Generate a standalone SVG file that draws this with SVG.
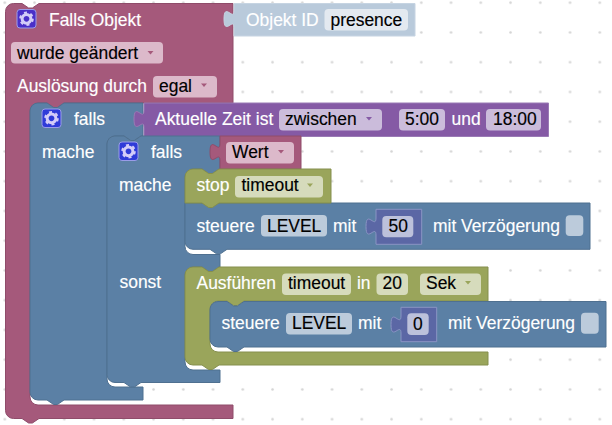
<svg xmlns="http://www.w3.org/2000/svg" width="612" height="425" viewBox="0 0 612 425">
<style>
text{font-family:"Liberation Sans",Arial,sans-serif;font-size:17.45px;fill:#fff;stroke:#fff;stroke-width:.15}
text.d{fill:#000;stroke:#000}
.pink{fill:#a5597b;stroke:#8f4c6a}
.blue{fill:#5b80a5;stroke:#4f7090}
.purple{fill:#855aa5;stroke:#9a7ab5}
.olive{fill:#9aa55b;stroke:#858f4e}
.indigo{fill:#5b67a5;stroke:#8a94c4}
.obj{fill:#b9cadb;stroke:#c6d4e2}
.fp{fill:#dcb9ca}.fb{fill:#bccbdb}.fu{fill:#cbbcdb}.fo{fill:#d6dbbc}.fi{fill:#bcc1db}.fw{fill:#e3e9f0}
.ap{fill:#a5597b}.au{fill:#855aa5}.ao{fill:#9aa55b}
.btn{stroke:#9a9ce8;stroke-width:1}
</style>
<defs>
<pattern id="dots" x="3.3" y="1.2" width="29.75" height="29.75" patternUnits="userSpaceOnUse"><circle cx="1.5" cy="1.5" r="1.3" fill="#d4d4d4"/></pattern>
<g id="gear"><circle cx="0" cy="0" r="4.4" fill="none" stroke="#d4cdf8" stroke-width="3"/><circle cx="0" cy="0" r="6.3" fill="none" stroke="#d4cdf8" stroke-width="2" stroke-dasharray="3 3.6"/></g>
<path id="arr" d="M0,0h6l-3,3.6z"/>
</defs>
<rect width="612" height="425" fill="#fff"/>
<rect width="612" height="425" fill="url(#dots)"/>

<g id="falls-objekt">
<path class="pink" d="M5.5,11.5A8,8 0 0 1 13.5,3.5H22l6.6,4.5h3.8l6.6,-4.5H233V103H64l-6.6,4.5h-3.8l-6.6,-4.5H38A8,8 0 0 0 30,111V397A8,8 0 0 0 38,405H233V418.5H39l-6.6,4.5h-3.8l-6.6,-4.5H13.5A8,8 0 0 1 5.5,410.5Z"/>
<rect class="btn" x="17" y="9.5" width="19" height="18.5" rx="3" fill="#4a2fc8"/><use href="#gear" x="26.5" y="18.8"/>
<text x="49" y="25.5">Falls Objekt</text>
<rect class="fp" x="11" y="42" width="152" height="21.5" rx="4"/><text class="d" x="17" y="58.5">wurde geändert</text><use href="#arr" class="ap" x="147.5" y="51"/>
<text x="17" y="92">Auslösung durch</text>
<rect class="fp" x="153" y="76" width="64" height="21.5" rx="4"/><text class="d" x="159" y="92">egal</text><use href="#arr" class="ap" x="201" y="83.5"/>
</g>

<g id="objekt-id">
<path class="obj" d="M234,3.5H415V36H234V27.5c0,-11 -10,9 -10,-8.5s10,3 10,-8.5Z"/>
<text x="246" y="25.5">Objekt ID</text>
<rect class="fw" x="324.5" y="9" width="83.5" height="21.5" rx="4"/><text class="d" x="330.5" y="25.5">presence</text>
</g>

<g id="falls-1">
<path class="blue" d="M30,111A8,8 0 0 1 38,103H47l6.6,4.5h3.8l6.6,-4.5H143V136H141l-6.6,4.5h-3.8l-6.6,-4.5H115A8,8 0 0 0 107,144V379A8,8 0 0 0 115,387H143V400H64l-6.6,4.5h-3.8l-6.6,-4.5H38A8,8 0 0 1 30,392Z"/>
<rect class="btn" x="42" y="109" width="19" height="18.5" rx="3" fill="#2f3bd8"/><use href="#gear" x="51.5" y="118.3"/>
<text x="74" y="125">falls</text>
<text x="42" y="157.5">mache</text>
</g>

<g id="aktuelle-zeit">
<path class="purple" d="M144,103H548.5V136.5H144V127.5c0,-11 -10,9 -10,-8.5s10,3 10,-8.5Z"/>
<text x="155" y="125">Aktuelle Zeit ist</text>
<rect class="fu" x="279" y="109" width="103" height="21.5" rx="4"/><text class="d" x="285" y="125">zwischen</text><use href="#arr" class="au" x="366" y="117"/>
<rect class="fu" x="399" y="109" width="46" height="21.5" rx="4"/><text class="d" x="405" y="125">5:00</text>
<text x="451.5" y="125">und</text>
<rect class="fu" x="486" y="109" width="55" height="21.5" rx="4"/><text class="d" x="493" y="125">18:00</text>
</g>

<g id="falls-2">
<path class="blue" d="M107,144A8,8 0 0 1 115,136H124l6.6,4.5h3.8l6.6,-4.5H220V169H219l-6.6,4.5h-3.8l-6.6,-4.5H193A8,8 0 0 0 185,177V246.5A8,8 0 0 0 193,254.5H220V267H219l-6.6,4.5h-3.8l-6.6,-4.5H193A8,8 0 0 0 185,275V362A8,8 0 0 0 193,370H220V382.5H141l-6.6,4.5h-3.8l-6.6,-4.5H115A8,8 0 0 1 107,374.5Z"/>
<rect class="btn" x="119" y="142" width="19" height="18.5" rx="3" fill="#2f3bd8"/><use href="#gear" x="128.5" y="151.3"/>
<text x="151" y="158">falls</text>
<text x="119" y="190.5">mache</text>
<text x="119.5" y="288">sonst</text>
</g>

<g id="wert">
<path class="pink" d="M220,136H301V169H220V160.5c0,-11 -10,9 -10,-8.5s10,3 10,-8.5Z"/>
<rect class="fp" x="226" y="142" width="68" height="21.5" rx="4"/><text class="d" x="232" y="158">Wert</text><use href="#arr" class="ap" x="278" y="150"/>
</g>

<g id="steuere-1">
<path class="blue" d="M185,203H590V249.3H227l-6.6,4.5h-3.8l-6.6,-4.5H193A8,8 0 0 1 185,241.3Z"/>
<text x="196.5" y="232">steuere</text>
<rect class="fb" x="261" y="215" width="66" height="21.5" rx="4"/><text class="d" x="267" y="232">LEVEL</text>
<text x="333" y="232">mit</text>
<text x="433" y="232">mit Verzögerung</text>
<rect class="fb" x="565.7" y="215.3" width="17.6" height="20.7" rx="4"/>
</g>

<g id="wert-50">
<path class="indigo" d="M376,209.3H421.7V244.3H376V235c0,-11 -10,9 -10,-8.5s10,3 10,-8.5Z"/>
<rect class="fi" x="382.3" y="216" width="31" height="21.3" rx="4"/><text class="d" x="388.5" y="232">50</text>
</g>

<g id="stop">
<path class="olive" d="M185,177A8,8 0 0 1 193,169H202l6.6,4.5h3.8l6.6,-4.5H331V203H219l-6.6,4.5h-3.8l-6.6,-4.5H185Z"/>
<text x="196.5" y="190.5">stop</text>
<rect class="fo" x="235" y="176" width="88" height="21.5" rx="4"/><text class="d" x="241.5" y="190.5">timeout</text><use href="#arr" class="ao" x="307" y="183.5"/>
</g>

<g id="ausfuehren">
<path class="olive" d="M185,275A8,8 0 0 1 193,267H202l6.6,4.5h3.8l6.6,-4.5H488V301H244l-6.6,4.5h-3.8l-6.6,-4.5H218A8,8 0 0 0 210,309V344A8,8 0 0 0 218,352H488V365H219l-6.6,4.5h-3.8l-6.6,-4.5H193A8,8 0 0 1 185,357Z"/>
<text x="196.5" y="289">Ausführen</text>
<rect class="fo" x="282" y="273.5" width="69" height="21.5" rx="4"/><text class="d" x="288" y="289">timeout</text>
<text x="357" y="289">in</text>
<rect class="fo" x="376.5" y="273.5" width="31.5" height="21.5" rx="4"/><text class="d" x="382.5" y="289">20</text>
<rect class="fo" x="420" y="273.5" width="61" height="21.5" rx="4"/><text class="d" x="426" y="289">Sek</text><use href="#arr" class="ao" x="465" y="281"/>
</g>

<g id="steuere-2">
<path class="blue" d="M218,301.5H227l6.6,4.5h3.8l6.6,-4.5H606V347H244l-6.6,4.5h-3.8l-6.6,-4.5H218A8,8 0 0 1 210,339V309.5A8,8 0 0 1 218,301.5Z"/>
<text x="221.5" y="329">steuere</text>
<rect class="fb" x="286" y="313" width="66" height="21.5" rx="4"/><text class="d" x="292" y="329">LEVEL</text>
<text x="358" y="329">mit</text>
<text x="448" y="329">mit Verzögerung</text>
<rect class="fb" x="581" y="312.7" width="17.7" height="21" rx="4"/>
</g>

<g id="wert-0">
<path class="indigo" d="M401,307.3H436.7V341.7H401V333c0,-11 -10,9 -10,-8.5s10,3 10,-8.5Z"/>
<rect class="fi" x="407.3" y="313.3" width="21.4" height="21.7" rx="4"/><text class="d" x="413" y="329.5">0</text>
</g>
</svg>
